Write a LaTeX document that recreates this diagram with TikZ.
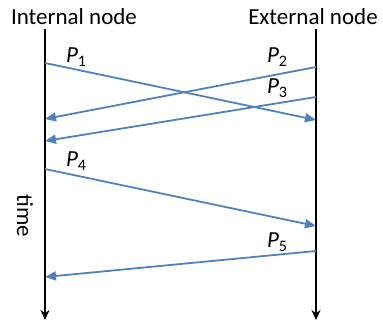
\documentclass[tikz,border=0pt]{standalone}
\usepackage{fontspec}
\setmainfont{Carlito}
\usepackage{tikz}
\usetikzlibrary{arrows.meta}

\definecolor{msgblue}{RGB}{79,129,189}
\newcommand{\pkt}[1]{\textit{P}\raisebox{-4.5pt}{\fontsize{16}{16}\selectfont #1}}

\begin{document}
\begin{tikzpicture}[x=1pt, y=-1pt,
    timeline/.style = {line width=1.8pt, -{Stealth[length=10pt,width=9pt]}},
    msg/.style = {msgblue, line width=1.8pt, -{Triangle[length=11pt,width=9pt]}},
    pktlabel/.style = {font=\fontsize{23}{23}\selectfont, inner sep=0pt},
    head/.style = {font=\fontsize{23}{23}\selectfont, inner sep=0pt}]
                \useasboundingbox (0,0) rectangle (383,324);
                \node [head] (inthead) at (74,17) {Internal node};
                \node [head] (exthead) at (313,17) {External node};
                \coordinate (intTop) at (45,29);
                \coordinate (intBot) at (45,320);
                \coordinate (extTop) at (316,29);
                \coordinate (extBot) at (316,320);
                \draw [timeline] (intTop) -- (intBot);
                \draw [timeline] (extTop) -- (extBot);
                \node [head, rotate=-90] (timelbl) at (25,216) {time};
                % packets sent and received
                \coordinate (s1) at (45,63);   \coordinate (r1) at (316,120);
                \coordinate (s2) at (316,67);  \coordinate (r2) at (45,119);
                \coordinate (s3) at (316,97);  \coordinate (r3) at (45,141);
                \coordinate (s4) at (45,169);  \coordinate (r4) at (316,226);
                \coordinate (s5) at (316,251); \coordinate (r5) at (45,277);
                \foreach \i in {1,...,5}
                  \draw [msg] (s\i) -- (r\i);
                \node [pktlabel] (p1) at (76,57) {\pkt{1}};
                \node [pktlabel] (p2) at (277,57) {\pkt{2}};
                \node [pktlabel] (p3) at (277,88) {\pkt{3}};
                \node [pktlabel] (p4) at (76,161) {\pkt{4}};
                \node [pktlabel] (p5) at (277,242) {\pkt{5}};
            \end{tikzpicture}
\end{document}
